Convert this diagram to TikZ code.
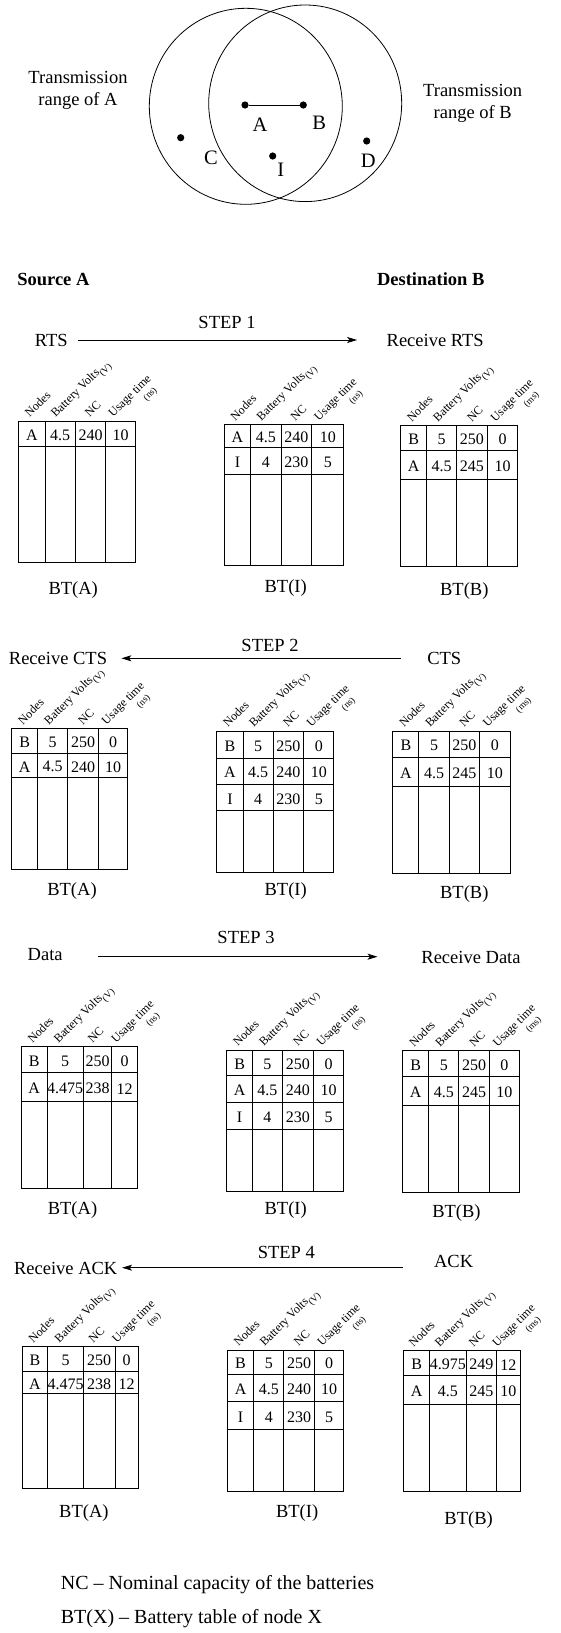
\documentclass[tikz,border=0pt]{standalone}
\usepackage{fontspec}
\setmainfont{Liberation Serif}
\usetikzlibrary{arrows.meta}

% current table geometry: left edge, three column dividers, right edge
\def\tabL{0}\def\tabA{0}\def\tabB{0}\def\tabC{0}\def\tabR{0}
\newcommand\settab[5]{\def\tabL{#1}\def\tabA{#2}\def\tabB{#3}\def\tabC{#4}\def\tabR{#5}}
% frame of a battery table: #1 top, #2 bottom, #3 list of row separators
\newcommand\bframe[3]{%
  \draw[tabline] (\tabL,#1) rectangle (\tabR,#2);
  \foreach \c in {\tabA,\tabB,\tabC} {\draw[tabline] (\c,#1) -- (\c,#2);}
  \foreach \r in {#3} {\draw[tabline] (\tabL,\r) -- (\tabR,\r);}
}
% one row of entries: #1 name, #2 y, #3-#6 texts
\newcommand\cells[6]{%
  \node[celltext] (#1a) at ({(\tabL+\tabA)/2},{#2+1.5}) {#3};
  \node[celltext] (#1b) at ({(\tabA+\tabB)/2},{#2+1.5}) {#4};
  \node[celltext] (#1c) at ({(\tabB+\tabC)/2},{#2+1.5}) {#5};
  \node[celltext] (#1d) at ({(\tabC+\tabR)/2},{#2+1.5}) {#6};
}
% slanted column headings: #1 name, #2 x, #3 y, #4 time unit
\newcommand\heads[4]{%
  \node[headtext] (#1n) at (#2,#3) {Nodes};
  \node[headtext] (#1v) at ({#2+26},#3) {Battery Volts\raisebox{-4pt}{\fontsize{9.5}{9.5}\selectfont(V)}};
  \node[headtext] (#1c) at ({#2+60},#3) {NC};
  \node[headtext] (#1u) at ({#2+83.5},#3) {Usage time\llap{\raisebox{-12pt}{\fontsize{9.5}{9.5}\selectfont(#4)}\kern4pt}};
}

\tikzset{
  txt/.style={inner sep=0pt, font=\fontsize{18.5}{22.5}\selectfont},
  biglbl/.style={inner sep=0pt, font=\fontsize{20.5}{20.5}\selectfont},
  legendtxt/.style={inner sep=0pt, anchor=west, font=\fontsize{20}{20}\selectfont},
  celltext/.style={inner sep=0pt, font=\fontsize{16}{16}\selectfont},
  headtext/.style={inner sep=0pt, rotate=45, anchor=base west, font=\fontsize{12}{12}\selectfont},
  tabline/.style={line width=0.9pt},
  rangeline/.style={line width=0.8pt},
  nodedot/.style={circle, fill, inner sep=0pt, minimum size=7.2pt},
  msgarrow/.style={line width=0.8pt, -{Stealth[length=10pt,width=6pt,inset=2.5pt]}},
}

\begin{document}
\begin{tikzpicture}[x=1pt,y=-1pt]
\useasboundingbox (0,0) rectangle (560,1633);

% ---- network: transmission ranges and nodes ----
\draw[rangeline] (245.8,106.3) ellipse[x radius=96.5, y radius=98];
\draw[rangeline] (305.2,103.3) ellipse[x radius=96.5, y radius=98.3];
\node[txt, align=center] (rangeA) at (78,90.5) {Transmission\\range of A};
\node[txt, align=center] (rangeB) at (472.7,103.5) {Transmission\\range of B};
\node[nodedot] (nA) at (245,105) {};
\node[nodedot] (nB) at (303.3,105) {};
\node[nodedot] (nC) at (180.7,137.7) {};
\node[nodedot] (nI) at (272.7,156) {};
\node[nodedot] (nD) at (366.7,141) {};
\draw[rangeline] (nA) -- (nB);
\node[biglbl] (lA) at (260,125) {A};
\node[biglbl] (lB) at (319.3,122.7) {B};
\node[biglbl] (lC) at (211,158.3) {C};
\node[biglbl] (lI) at (280.7,170) {I};
\node[biglbl] (lD) at (368.3,160.7) {D};

\node[txt, anchor=west, font=\fontsize{18.5}{18.5}\selectfont\bfseries] (src) at (17.1,279.3) {Source A};
\node[txt, anchor=west, font=\fontsize{18.5}{18.5}\selectfont\bfseries] (dst) at (376.8,279.3) {Destination B};

% ---- step 1: RTS ----
\node[txt] (st1) at (227,322.7) {STEP 1};
\node[txt] (rts) at (51.3,340) {RTS};
\node[txt] (rrts) at (435.2,340) {Receive RTS};
\coordinate (m1s) at (77.5,340);
\coordinate (m1e) at (357.1,340);
\draw[msgarrow] (m1s) -- (m1e);

\settab{18.6}{45}{75.4}{105.7}{135.7}
\bframe{421}{562.3}{446.7}
\cells{a1r1}{433.8}{A}{4.5}{240}{10}
\heads{a1h}{29.6}{418}{ns}
\node[txt] (bta1) at (73.2,590) {BT(A)};

\settab{224.3}{250.7}{281.1}{311.8}{343.9}
\bframe{424.3}{565.7}{447,474}
\cells{i1r1}{435.6}{A}{4.5}{240}{10}
\cells{i1r2}{460.5}{I}{4}{230}{5}
\heads{i1h}{235.3}{421.3}{ns}
\node[txt] (bti1) at (285.7,588.5) {BT(I)};

\settab{400.7}{426.8}{456.4}{487.5}{517.9}
\bframe{425.3}{566.7}{450.7,479.3}
\cells{b1r1}{438}{B}{5}{250}{0}
\cells{b1r2}{465}{A}{4.5}{245}{10}
\heads{b1h}{411.7}{422.3}{ms}
\node[txt] (btb1) at (464.3,591) {BT(B)};

% ---- step 2: CTS ----
\node[txt] (st2) at (270,645) {STEP 2};
\node[txt] (rcts) at (58,658.3) {Receive CTS};
\node[txt] (cts) at (444.3,658.3) {CTS};
\coordinate (m2s) at (400.7,658.3);
\coordinate (m2e) at (121.4,658.3);
\draw[msgarrow] (m2s) -- (m2e);

\settab{11.8}{37.5}{67.9}{98.2}{127.9}
\bframe{728.3}{869.3}{753.3,777.3}
\cells{a2r1}{740.8}{B}{5}{250}{0}
\cells{a2r2}{765.3}{A}{4.5}{240}{10}
\heads{a2h}{22.8}{725.3}{ns}
\node[txt] (bta2) at (72,891) {BT(A)};

\settab{216.8}{243.2}{273.2}{303.6}{333.9}
\bframe{731}{872.3}{758.3,784,810.7}
\cells{i2r1}{744.7}{B}{5}{250}{0}
\cells{i2r2}{771.2}{A}{4.5}{240}{10}
\cells{i2r3}{797.4}{I}{4}{230}{5}
\heads{i2h}{227.8}{728}{ns}
\node[txt] (bti2) at (285.7,891) {BT(I)};

\settab{392.9}{418.9}{449.3}{479.6}{510}
\bframe{731}{873.3}{757.3,786}
\cells{b2r1}{744.2}{B}{5}{250}{0}
\cells{b2r2}{771.7}{A}{4.5}{245}{10}
\heads{b2h}{403.9}{728}{ms}
\node[txt] (btb2) at (464.3,894) {BT(B)};

% ---- step 3: data ----
\node[txt] (st3) at (246,937.3) {STEP 3};
\node[txt] (data) at (45.2,955) {Data};
\node[txt] (rdata) at (471,957.3) {Receive Data};
\coordinate (m3s) at (97.5,956.7);
\coordinate (m3e) at (377.5,956.7);
\draw[msgarrow] (m3s) -- (m3e);

\settab{21.4}{47.1}{83.2}{111.8}{137.5}
\bframe{1046.7}{1188.3}{1072.7,1101.7}
\cells{a3r1}{1059.7}{B}{5}{250}{0}
\cells{a3r2}{1087.2}{A}{4.475}{238}{12}
\heads{a3h}{32.4}{1043.7}{ns}
\node[txt] (bta3) at (72.5,1210) {BT(A)};

\settab{226.8}{252.5}{282.1}{313.6}{343.6}
\bframe{1050}{1191.7}{1075.7,1102.3,1129.3}
\cells{i3r1}{1062.9}{B}{5}{250}{0}
\cells{i3r2}{1089}{A}{4.5}{240}{10}
\cells{i3r3}{1115.8}{I}{4}{230}{5}
\heads{i3h}{237.8}{1047}{ns}
\node[txt] (bti3) at (285.7,1210) {BT(I)};

\settab{402.9}{428.6}{458.9}{489.3}{519.6}
\bframe{1050.7}{1192.3}{1076.7,1105}
\cells{b3r1}{1063.7}{B}{5}{250}{0}
\cells{b3r2}{1090.9}{A}{4.5}{245}{10}
\heads{b3h}{413.9}{1047.7}{ms}
\node[txt] (btb3) at (456.4,1213) {BT(B)};

% ---- step 4: ACK ----
\node[txt] (st4) at (286.3,1252.3) {STEP 4};
\node[txt] (rack) at (65.7,1268.3) {Receive ACK};
\node[txt] (ack) at (453.6,1261) {ACK};
\coordinate (m4s) at (402.9,1267.7);
\coordinate (m4e) at (122.1,1267.7);
\draw[msgarrow] (m4s) -- (m4e);

\settab{22.3}{47.7}{83.3}{115}{138.3}
\bframe{1346.7}{1488.3}{1371.7,1393.7}
\cells{a4r1}{1359.2}{B}{5}{250}{0}
\cells{a4r2}{1382.7}{A}{4.475}{238}{12}
\heads{a4h}{33.3}{1343.5}{ns}
\node[txt] (bta4) at (83.9,1513.3) {BT(A)};

\settab{227.5}{253.6}{283.9}{314.3}{343.9}
\bframe{1350}{1491}{1374.3,1401.7,1429}
\cells{i4r1}{1362.2}{B}{5}{250}{0}
\cells{i4r2}{1388}{A}{4.5}{240}{10}
\cells{i4r3}{1415.4}{I}{4}{230}{5}
\heads{i4h}{238.5}{1347}{ns}
\node[txt] (bti4) at (297.1,1513) {BT(I)};

\settab{403.6}{429.6}{466.1}{496.4}{520.4}
\bframe{1350.7}{1491.7}{1375.7,1404}
\cells{b4r1}{1363.2}{B}{4.975}{249}{12}
\cells{b4r2}{1389.9}{A}{4.5}{245}{10}
\heads{b4h}{413.5}{1347.7}{ms}
\node[txt] (btb4) at (468.6,1520) {BT(B)};

% ---- legend ----
\node[legendtxt] (leg1) at (60.7,1585) {NC -- Nominal capacity of the batteries};
\node[legendtxt] (leg2) at (60.7,1618.3) {BT(X) -- Battery table of node X};
\end{tikzpicture}
\end{document}
